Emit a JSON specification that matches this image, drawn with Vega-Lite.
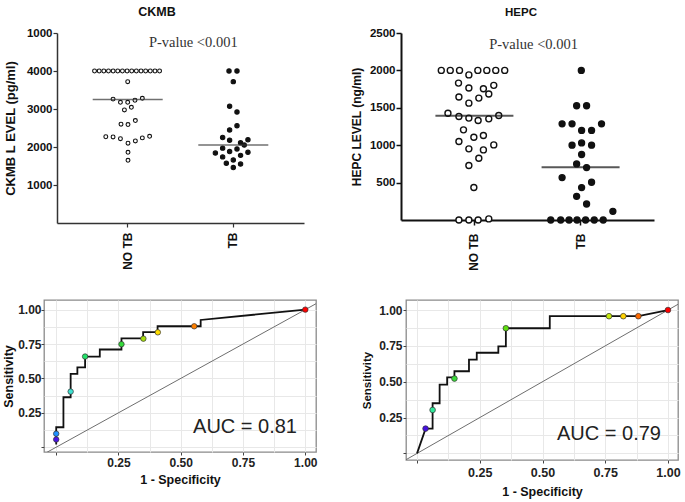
{
  "$schema": "https://vega.github.io/schema/vega-lite/v6.json",
  "padding": {"left": 1, "top": 5, "right": 3, "bottom": 3},
  "background": "white",
  "config": {
    "view": {"stroke": null},
    "font": "Liberation Sans"
  },
  "datasets": {
    "ckmb": [
      {"group": "NO TB", "value": 4000, "off": -33.3}, {"group": "NO TB", "value": 4000, "off": -28.6},
      {"group": "NO TB", "value": 4000, "off": -24}, {"group": "NO TB", "value": 4000, "off": -19.3},
      {"group": "NO TB", "value": 4000, "off": -14.6}, {"group": "NO TB", "value": 4000, "off": -10},
      {"group": "NO TB", "value": 4000, "off": -5.3}, {"group": "NO TB", "value": 4000, "off": -0.6},
      {"group": "NO TB", "value": 4000, "off": 4}, {"group": "NO TB", "value": 4000, "off": 8.7},
      {"group": "NO TB", "value": 4000, "off": 13.4}, {"group": "NO TB", "value": 4000, "off": 18},
      {"group": "NO TB", "value": 4000, "off": 22.7}, {"group": "NO TB", "value": 4000, "off": 27.4},
      {"group": "NO TB", "value": 4000, "off": 32},
      {"group": "NO TB", "value": 3720, "off": 0},
      {"group": "NO TB", "value": 3260, "off": -14.7}, {"group": "NO TB", "value": 3175, "off": -7.3},
      {"group": "NO TB", "value": 3175, "off": 0}, {"group": "NO TB", "value": 3230, "off": 7.3},
      {"group": "NO TB", "value": 3280, "off": 14.7},
      {"group": "NO TB", "value": 2975, "off": -3.3}, {"group": "NO TB", "value": 3045, "off": 3.7},
      {"group": "NO TB", "value": 2600, "off": -6.7}, {"group": "NO TB", "value": 2590, "off": 0.3},
      {"group": "NO TB", "value": 2695, "off": 7.7},
      {"group": "NO TB", "value": 2270, "off": -22}, {"group": "NO TB", "value": 2265, "off": -14.7},
      {"group": "NO TB", "value": 2220, "off": -7.3}, {"group": "NO TB", "value": 2100, "off": 0.3},
      {"group": "NO TB", "value": 2160, "off": 7.7}, {"group": "NO TB", "value": 2240, "off": 14.7},
      {"group": "NO TB", "value": 2280, "off": 22},
      {"group": "NO TB", "value": 1860, "off": 0.3}, {"group": "NO TB", "value": 1650, "off": 0.3},
      {"group": "TB", "value": 4000, "off": -4.3}, {"group": "TB", "value": 4000, "off": 3.7},
      {"group": "TB", "value": 3720, "off": 0}, {"group": "TB", "value": 3070, "off": -3.7},
      {"group": "TB", "value": 2920, "off": 3.7}, {"group": "TB", "value": 2560, "off": 3.7},
      {"group": "TB", "value": 2450, "off": -3.7}, {"group": "TB", "value": 2250, "off": -10.7},
      {"group": "TB", "value": 2180, "off": -3.7}, {"group": "TB", "value": 2190, "off": 14.7},
      {"group": "TB", "value": 2110, "off": 7.3}, {"group": "TB", "value": 2050, "off": 11},
      {"group": "TB", "value": 1840, "off": -18}, {"group": "TB", "value": 1970, "off": -10.7},
      {"group": "TB", "value": 1880, "off": -3.7}, {"group": "TB", "value": 1950, "off": 3.7},
      {"group": "TB", "value": 1860, "off": 14.7}, {"group": "TB", "value": 1740, "off": -10.7},
      {"group": "TB", "value": 1780, "off": 7.3}, {"group": "TB", "value": 1570, "off": -7},
      {"group": "TB", "value": 1660, "off": 0}, {"group": "TB", "value": 1550, "off": 7.3},
      {"group": "TB", "value": 1460, "off": 0}
    ],
    "ckmbMed": [{"group": "NO TB", "value": 3250}, {"group": "TB", "value": 2050}],
    "hepc": [
      {"group": "NO TB", "value": 2000, "off": -33}, {"group": "NO TB", "value": 2000, "off": -24},
      {"group": "NO TB", "value": 2000, "off": -14.7}, {"group": "NO TB", "value": 1940, "off": -5.3},
      {"group": "NO TB", "value": 2000, "off": 3.7}, {"group": "NO TB", "value": 2000, "off": 12.7},
      {"group": "NO TB", "value": 2000, "off": 21.7}, {"group": "NO TB", "value": 2000, "off": 30.7},
      {"group": "NO TB", "value": 1830, "off": -15.7}, {"group": "NO TB", "value": 1765, "off": -5.3},
      {"group": "NO TB", "value": 1755, "off": 9.3}, {"group": "NO TB", "value": 1800, "off": 19.7},
      {"group": "NO TB", "value": 1645, "off": -15.3}, {"group": "NO TB", "value": 1630, "off": 4.7},
      {"group": "NO TB", "value": 1685, "off": 14.7}, {"group": "NO TB", "value": 1562, "off": -5.3},
      {"group": "NO TB", "value": 1428, "off": -26.3}, {"group": "NO TB", "value": 1384, "off": -15.3},
      {"group": "NO TB", "value": 1362, "off": -5.3}, {"group": "NO TB", "value": 1331, "off": 4},
      {"group": "NO TB", "value": 1352, "off": 14.7}, {"group": "NO TB", "value": 1398, "off": 24.7},
      {"group": "NO TB", "value": 1205, "off": -10.7}, {"group": "NO TB", "value": 1050, "off": -15.3},
      {"group": "NO TB", "value": 1107, "off": -0.3}, {"group": "NO TB", "value": 1130, "off": 9.3},
      {"group": "NO TB", "value": 1004, "off": 19.7}, {"group": "NO TB", "value": 951, "off": -5.3},
      {"group": "NO TB", "value": 937, "off": 9.3}, {"group": "NO TB", "value": 826, "off": 4.7},
      {"group": "NO TB", "value": 728, "off": -5.3}, {"group": "NO TB", "value": 434, "off": -0.3},
      {"group": "NO TB", "value": 0, "off": -15.3}, {"group": "NO TB", "value": 0, "off": -5.3},
      {"group": "NO TB", "value": 0, "off": 4}, {"group": "NO TB", "value": 15, "off": 14.7},
      {"group": "TB", "value": 2000, "off": 1}, {"group": "TB", "value": 1527, "off": -3.7},
      {"group": "TB", "value": 1527, "off": 6.3}, {"group": "TB", "value": 1286, "off": -18.3},
      {"group": "TB", "value": 1286, "off": -8.3}, {"group": "TB", "value": 1286, "off": 21.3},
      {"group": "TB", "value": 1197, "off": 1.3}, {"group": "TB", "value": 1197, "off": 11.3},
      {"group": "TB", "value": 1000, "off": -8.3}, {"group": "TB", "value": 1031, "off": 1.3},
      {"group": "TB", "value": 1000, "off": 11.3}, {"group": "TB", "value": 876, "off": 1.3},
      {"group": "TB", "value": 750, "off": -3.7}, {"group": "TB", "value": 701, "off": 6.3},
      {"group": "TB", "value": 567, "off": -18.3}, {"group": "TB", "value": 505, "off": 11.3},
      {"group": "TB", "value": 434, "off": 1.3}, {"group": "TB", "value": 317, "off": -3.7},
      {"group": "TB", "value": 214, "off": 6.3}, {"group": "TB", "value": 116, "off": 32.7},
      {"group": "TB", "value": 0, "off": -29.7}, {"group": "TB", "value": 0, "off": -19.7},
      {"group": "TB", "value": 0, "off": -11.3}, {"group": "TB", "value": 0, "off": -3.3},
      {"group": "TB", "value": 0, "off": 5.3}, {"group": "TB", "value": 0, "off": 14},
      {"group": "TB", "value": 0, "off": 23}
    ],
    "hepcMed": [{"group": "NO TB", "value": 1393}, {"group": "TB", "value": 706}],
    "roc1": [
      {"i": 1, "fpr": 0, "tpr": 0.02}, {"i": 2, "fpr": 0, "tpr": 0.145},
      {"i": 3, "fpr": 0.029, "tpr": 0.145}, {"i": 4, "fpr": 0.029, "tpr": 0.363},
      {"i": 5, "fpr": 0.058, "tpr": 0.363}, {"i": 6, "fpr": 0.058, "tpr": 0.533},
      {"i": 7, "fpr": 0.085, "tpr": 0.533}, {"i": 8, "fpr": 0.085, "tpr": 0.58},
      {"i": 9, "fpr": 0.116, "tpr": 0.58}, {"i": 10, "fpr": 0.116, "tpr": 0.659},
      {"i": 11, "fpr": 0.175, "tpr": 0.659}, {"i": 12, "fpr": 0.175, "tpr": 0.71},
      {"i": 13, "fpr": 0.262, "tpr": 0.71}, {"i": 14, "fpr": 0.262, "tpr": 0.791},
      {"i": 15, "fpr": 0.349, "tpr": 0.791}, {"i": 16, "fpr": 0.349, "tpr": 0.837},
      {"i": 17, "fpr": 0.407, "tpr": 0.837}, {"i": 18, "fpr": 0.407, "tpr": 0.879},
      {"i": 19, "fpr": 0.58, "tpr": 0.879}, {"i": 20, "fpr": 0.58, "tpr": 0.925},
      {"i": 21, "fpr": 1, "tpr": 1}
    ],
    "roc1pts": [
      {"k": 1, "fpr": 0, "tpr": 0.056}, {"k": 2, "fpr": 0, "tpr": 0.098},
      {"k": 3, "fpr": 0.058, "tpr": 0.404}, {"k": 4, "fpr": 0.116, "tpr": 0.659},
      {"k": 5, "fpr": 0.262, "tpr": 0.749}, {"k": 6, "fpr": 0.35, "tpr": 0.789},
      {"k": 7, "fpr": 0.408, "tpr": 0.835}, {"k": 8, "fpr": 0.554, "tpr": 0.879},
      {"k": 9, "fpr": 1, "tpr": 1}
    ],
    "roc2": [
      {"i": 1, "fpr": 0, "tpr": 0}, {"i": 2, "fpr": 0.034, "tpr": 0.173},
      {"i": 3, "fpr": 0.062, "tpr": 0.173}, {"i": 4, "fpr": 0.062, "tpr": 0.35},
      {"i": 5, "fpr": 0.09, "tpr": 0.35}, {"i": 6, "fpr": 0.09, "tpr": 0.48},
      {"i": 7, "fpr": 0.12, "tpr": 0.48}, {"i": 8, "fpr": 0.12, "tpr": 0.53},
      {"i": 9, "fpr": 0.149, "tpr": 0.53}, {"i": 10, "fpr": 0.149, "tpr": 0.573},
      {"i": 11, "fpr": 0.207, "tpr": 0.573}, {"i": 12, "fpr": 0.207, "tpr": 0.654},
      {"i": 13, "fpr": 0.238, "tpr": 0.654}, {"i": 14, "fpr": 0.238, "tpr": 0.702},
      {"i": 15, "fpr": 0.324, "tpr": 0.702}, {"i": 16, "fpr": 0.324, "tpr": 0.746},
      {"i": 17, "fpr": 0.354, "tpr": 0.746}, {"i": 18, "fpr": 0.354, "tpr": 0.873},
      {"i": 19, "fpr": 0.529, "tpr": 0.873}, {"i": 20, "fpr": 0.529, "tpr": 0.957},
      {"i": 21, "fpr": 0.882, "tpr": 0.957}, {"i": 22, "fpr": 1, "tpr": 1}
    ],
    "roc2pts": [
      {"k": 1, "fpr": 0.034, "tpr": 0.173}, {"k": 2, "fpr": 0.062, "tpr": 0.303},
      {"k": 3, "fpr": 0.149, "tpr": 0.522}, {"k": 4, "fpr": 0.354, "tpr": 0.873},
      {"k": 5, "fpr": 0.765, "tpr": 0.957}, {"k": 6, "fpr": 0.822, "tpr": 0.957},
      {"k": 7, "fpr": 0.882, "tpr": 0.957}, {"k": 8, "fpr": 1, "tpr": 1}
    ],
    "diag": [{"x": -0.2, "y": -0.2}, {"x": 1.2, "y": 1.2}]
  },
  "columns": 2,
  "align": "all",
  "spacing": {"row": 28, "column": 31},
  "resolve": {"scale": {"fill": "independent", "size": "independent", "color": "independent"}},
  "concat": [
    {
      "width": 260,
      "height": 190,
      "title": {"text": "CKMB", "font": "Liberation Sans", "fontSize": 12.5, "fontWeight": "bold", "color": "#111", "dx": -17, "offset": 9},
      "layer": [
        {
          "data": {"name": "ckmb"},
          "mark": {"type": "point", "shape": "circle", "filled": true, "stroke": "#111", "strokeWidth": 1.1, "opacity": 1},
          "encoding": {
            "x": {"field": "group", "type": "nominal",
              "scale": {"type": "band", "domain": ["NO TB", "TB"], "range": [13, 260], "paddingInner": 0.057, "paddingOuter": 0.198},
              "axis": {"title": null, "labelAngle": -90, "labelFont": "Liberation Sans", "labelFontWeight": "bold", "labelFontSize": 12, "labelColor": "#111", "labelPadding": 5, "tickSize": 4, "tickColor": "#333", "domainColor": "#333", "domainWidth": 1.5, "tickWidth": 1.2}},
            "xOffset": {"field": "off", "type": "quantitative", "scale": {"domain": [-50, 50]}},
            "y": {"field": "value", "type": "quantitative",
              "scale": {"domain": [0, 5000], "nice": false},
              "axis": {"offset": -13, "values": [1000, 2000, 3000, 4000, 5000], "labelExpr": "datum.value == 5000 ? '1000' : format(datum.value, 'd')", "grid": false, "title": "CKMB L EVEL (pg/ml)", "titleFont": "Liberation Sans", "titleFontWeight": "bold", "titleFontSize": 13, "titleColor": "#111", "titlePadding": 9, "labelFont": "Liberation Sans", "labelFontWeight": "bold", "labelFontSize": 11.5, "labelColor": "#111", "labelPadding": 1, "tickSize": 4, "tickColor": "#333", "domainColor": "#333", "domainWidth": 1.5, "tickWidth": 1.2}},
            "fill": {"field": "group", "type": "nominal", "scale": {"domain": ["NO TB", "TB"], "range": ["#ffffff", "#111111"]}, "legend": null},
            "size": {"field": "group", "type": "nominal", "scale": {"domain": ["NO TB", "TB"], "range": [15, 19]}, "legend": null}
          }
        },
        {
          "data": {"name": "ckmbMed"},
          "mark": {"type": "tick", "size": 70, "thickness": 1.5, "color": "#333"},
          "encoding": {
            "x": {"field": "group", "type": "nominal"},
            "y": {"field": "value", "type": "quantitative"}
          }
        },
        {
          "data": {"values": [{"label": "P-value <0.001", "group": "TB", "value": 4730}]},
          "mark": {"type": "text", "font": "Liberation Serif", "fontSize": 14.5, "color": "#333", "dx": -40},
          "encoding": {
            "x": {"field": "group", "type": "nominal"},
            "y": {"field": "value", "type": "quantitative"},
            "text": {"field": "label"}
          }
        }
      ]
    },
    {
      "width": 248,
      "height": 187,
      "title": {"text": "HEPC", "font": "Liberation Sans", "fontSize": 11.5, "fontWeight": "bold", "color": "#111", "dx": -9, "offset": 9},
      "layer": [
        {
          "data": {"name": "hepc"},
          "mark": {"type": "point", "shape": "circle", "filled": true, "stroke": "#111", "strokeWidth": 1.4, "opacity": 1},
          "encoding": {
            "x": {"field": "group", "type": "nominal",
              "scale": {"type": "band", "domain": ["NO TB", "TB"], "range": [-5, 248], "paddingInner": 0.057, "paddingOuter": 0.22},
              "axis": {"title": null, "labelAngle": -90, "labelFont": "Liberation Sans", "labelFontWeight": "bold", "labelFontSize": 12, "labelColor": "#111", "labelPadding": 8, "tickSize": 5, "tickColor": "#111", "domainColor": "#111", "domainWidth": 2, "tickWidth": 1.5}},
            "xOffset": {"field": "off", "type": "quantitative", "scale": {"domain": [-50, 50]}},
            "y": {"field": "value", "type": "quantitative",
              "scale": {"domain": [0, 2500], "nice": false},
              "axis": {"offset": 5, "values": [500, 1000, 1500, 2000, 2500], "format": "d", "grid": false, "title": "HEPC LEVEL (ng/ml)", "titleFont": "Liberation Sans", "titleFontWeight": "bold", "titleFontSize": 12, "titleColor": "#111", "titlePadding": 6, "labelFont": "Liberation Sans", "labelFontWeight": "bold", "labelFontSize": 11.5, "labelColor": "#111", "labelPadding": 1, "tickSize": 5, "tickColor": "#111", "domainColor": "#111", "domainWidth": 2, "tickWidth": 1.5}},
            "fill": {"field": "group", "type": "nominal", "scale": {"domain": ["NO TB", "TB"], "range": ["#ffffff", "#111111"]}, "legend": null},
            "size": {"field": "group", "type": "nominal", "scale": {"domain": ["NO TB", "TB"], "range": [36, 35]}, "legend": null}
          }
        },
        {
          "data": {"name": "hepcMed"},
          "mark": {"type": "tick", "size": 78, "thickness": 2, "color": "#111"},
          "encoding": {
            "x": {"field": "group", "type": "nominal"},
            "y": {"field": "value", "type": "quantitative"}
          }
        },
        {
          "data": {"values": [{"label": "P-value <0.001", "group": "TB", "value": 2335}]},
          "mark": {"type": "text", "font": "Liberation Serif", "fontSize": 14.5, "color": "#333", "dx": -47},
          "encoding": {
            "x": {"field": "group", "type": "nominal"},
            "y": {"field": "value", "type": "quantitative"},
            "text": {"field": "label"}
          }
        }
      ]
    },
    {
      "width": 272,
      "height": 152,
      "view": {"stroke": "#8a8a8a", "strokeWidth": 1.3},
      "encoding": {
        "x": {"field": "fpr", "type": "quantitative",
          "scale": {"domain": [-0.049, 1.043], "nice": false, "zero": false},
          "axis": {"values": [0, 0.125, 0.25, 0.375, 0.5, 0.625, 0.75, 0.875, 1], "labelExpr": "datum.value > 0.01 && abs(datum.value*4 - round(datum.value*4)) < 0.001 ? format(datum.value, '.2f') : ''", "grid": true, "gridColor": "#e8e8e8", "gridWidth": 1, "domain": false, "tickSize": 3, "tickColor": "#444", "tickOpacity": {"condition": {"test": "abs(datum.value*4 - round(datum.value*4)) < 0.001", "value": 1}, "value": 0}, "labelFont": "Liberation Sans", "labelFontWeight": "bold", "labelFontSize": 12, "labelColor": "#222", "labelFlush": false, "labelOverlap": false, "labelBound": false, "labelPadding": 2, "title": "1 - Specificity", "titleFont": "Liberation Sans", "titleFontWeight": "bold", "titleFontSize": 12.5, "titleColor": "#111", "titlePadding": 5}},
        "y": {"field": "tpr", "type": "quantitative",
          "scale": {"domain": [-0.035, 1.07], "nice": false, "zero": false},
          "axis": {"values": [0, 0.125, 0.25, 0.375, 0.5, 0.625, 0.75, 0.875, 1], "labelExpr": "datum.value > 0.01 && abs(datum.value*4 - round(datum.value*4)) < 0.001 ? format(datum.value, '.2f') : ''", "grid": true, "gridColor": "#e8e8e8", "gridWidth": 1, "domain": false, "tickSize": 3, "tickColor": "#444", "tickOpacity": {"condition": {"test": "abs(datum.value*4 - round(datum.value*4)) < 0.001", "value": 1}, "value": 0}, "labelFont": "Liberation Sans", "labelFontWeight": "bold", "labelFontSize": 12, "labelColor": "#222", "labelFlush": false, "labelOverlap": false, "labelBound": false, "labelPadding": 0, "title": "Sensitivity", "titleFont": "Liberation Sans", "titleFontWeight": "bold", "titleFontSize": 12.5, "titleColor": "#111", "titlePadding": 2}}
      },
      "layer": [
        {
          "data": {"name": "diag"},
          "mark": {"type": "line", "color": "#6e6e6e", "strokeWidth": 1, "clip": true},
          "encoding": {"x": {"field": "x", "type": "quantitative"}, "y": {"field": "y", "type": "quantitative"}}
        },
        {
          "data": {"name": "roc1"},
          "mark": {"type": "line", "color": "#111", "strokeWidth": 1.8},
          "encoding": {"order": {"field": "i", "type": "quantitative"}}
        },
        {
          "data": {"name": "roc1pts"},
          "mark": {"type": "point", "shape": "circle", "filled": true, "size": 30, "stroke": "#333", "strokeWidth": 0.7, "opacity": 1},
          "encoding": {
            "fill": {"field": "k", "type": "ordinal", "scale": {"domain": [1, 2, 3, 4, 5, 6, 7, 8, 9], "range": ["#4a14e6", "#1e90ff", "#3ee0d0", "#22e36a", "#34d93a", "#a6dd10", "#ffdd00", "#ff8000", "#ff0000"]}, "legend": null}
          }
        },
        {
          "data": {"values": [{"label": "AUC = 0.81", "fpr": 0.758, "tpr": 0.15}]},
          "mark": {"type": "text", "font": "Liberation Sans", "fontSize": 20, "color": "#222"},
          "encoding": {"text": {"field": "label"}}
        }
      ]
    },
    {
      "width": 272,
      "height": 160,
      "view": {"stroke": "#8a8a8a", "strokeWidth": 1.3},
      "encoding": {
        "x": {"field": "fpr", "type": "quantitative",
          "scale": {"domain": [-0.044, 1.04], "nice": false, "zero": false},
          "axis": {"values": [0, 0.125, 0.25, 0.375, 0.5, 0.625, 0.75, 0.875, 1], "labelExpr": "datum.value > 0.01 && abs(datum.value*4 - round(datum.value*4)) < 0.001 ? format(datum.value, '.2f') : ''", "grid": true, "gridColor": "#e8e8e8", "gridWidth": 1, "domain": false, "tickSize": 3, "tickColor": "#444", "tickOpacity": {"condition": {"test": "abs(datum.value*4 - round(datum.value*4)) < 0.001", "value": 1}, "value": 0}, "labelFont": "Liberation Sans", "labelFontWeight": "bold", "labelFontSize": 12.5, "labelColor": "#222", "labelFlush": false, "labelOverlap": false, "labelBound": false, "labelPadding": 3, "title": "1 - Specificity", "titleFont": "Liberation Sans", "titleFontWeight": "bold", "titleFontSize": 12.5, "titleColor": "#111", "titlePadding": 7}},
        "y": {"field": "tpr", "type": "quantitative",
          "scale": {"domain": [-0.046, 1.07], "nice": false, "zero": false},
          "axis": {"values": [0, 0.125, 0.25, 0.375, 0.5, 0.625, 0.75, 0.875, 1], "labelExpr": "datum.value > 0.01 && abs(datum.value*4 - round(datum.value*4)) < 0.001 ? format(datum.value, '.2f') : ''", "grid": true, "gridColor": "#e8e8e8", "gridWidth": 1, "domain": false, "tickSize": 3, "tickColor": "#444", "tickOpacity": {"condition": {"test": "abs(datum.value*4 - round(datum.value*4)) < 0.001", "value": 1}, "value": 0}, "labelFont": "Liberation Sans", "labelFontWeight": "bold", "labelFontSize": 12, "labelColor": "#222", "labelFlush": false, "labelOverlap": false, "labelBound": false, "labelPadding": 1, "title": "Sensitivity", "titleFont": "Liberation Sans", "titleFontWeight": "bold", "titleFontSize": 11.5, "titleColor": "#111", "titlePadding": 6}}
      },
      "layer": [
        {
          "data": {"name": "diag"},
          "mark": {"type": "line", "color": "#6e6e6e", "strokeWidth": 1, "clip": true},
          "encoding": {"x": {"field": "x", "type": "quantitative"}, "y": {"field": "y", "type": "quantitative"}}
        },
        {
          "data": {"name": "roc2"},
          "mark": {"type": "line", "color": "#111", "strokeWidth": 1.8},
          "encoding": {"order": {"field": "i", "type": "quantitative"}}
        },
        {
          "data": {"name": "roc2pts"},
          "mark": {"type": "point", "shape": "circle", "filled": true, "size": 32, "stroke": "#333", "strokeWidth": 0.7, "opacity": 1},
          "encoding": {
            "fill": {"field": "k", "type": "ordinal", "scale": {"domain": [1, 2, 3, 4, 5, 6, 7, 8], "range": ["#4510e0", "#2ee89a", "#3ad93a", "#5ede10", "#c4e810", "#ffd200", "#ff6a00", "#ff0000"]}, "legend": null}
          }
        },
        {
          "data": {"values": [{"label": "AUC = 0.79", "fpr": 0.765, "tpr": 0.134}]},
          "mark": {"type": "text", "font": "Liberation Sans", "fontSize": 20, "color": "#222"},
          "encoding": {"text": {"field": "label"}}
        }
      ]
    }
  ]
}
